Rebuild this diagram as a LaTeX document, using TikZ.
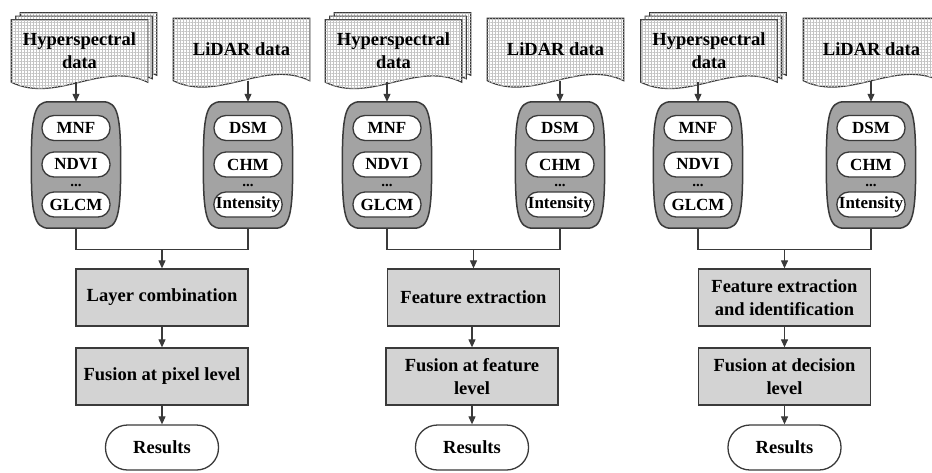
\documentclass[tikz,border=0pt]{standalone}
\usepackage{fontspec}
\setmainfont{Liberation Serif}
\usetikzlibrary{arrows.meta,calc,backgrounds,patterns.meta}
\definecolor{ink}{HTML}{3A3A3A}
\definecolor{capgray}{HTML}{A3A3A3}
\definecolor{boxgray}{HTML}{D3D3D3}
\definecolor{gridgray}{HTML}{C4C4C4}
\tikzset{
  txt/.style={font=\bfseries\fontsize{18.5}{23}\selectfont,text=black,align=center},
  small/.style={font=\bfseries\fontsize{17}{20}\selectfont,text=black},
  docframe/.style={txt,minimum width=136pt,minimum height=62pt,inner sep=0pt},
  docsheet/.style={draw=ink,line width=1.2pt,fill=white,postaction={pattern={Hatch[angle=0,distance=3pt,line width=0.35pt]},pattern color=gridgray}},
  capframe/.style={minimum width=89pt,minimum height=126pt,inner sep=0pt},
  barrel/.style={draw=ink,fill=capgray,line width=1.5pt},
  pill/.style={small,draw=ink,fill=white,line width=1.3pt,rounded corners=12pt,minimum width=68pt,minimum height=25pt,inner sep=2pt},
  dotrow/.style={font=\bfseries\fontsize{15}{15}\selectfont,inner sep=0pt},
  stage/.style={txt,draw=ink,fill=boxgray,line width=1.3pt,minimum width=172pt,minimum height=57pt,inner sep=2pt},
  result/.style={txt,draw=ink,fill=white,line width=1.3pt,rounded corners=22pt,minimum width=113pt,minimum height=45pt},
  arr/.style={-{Triangle[length=8pt,width=7pt]},draw=ink,line width=1.1pt},
  link/.style={draw=ink,line width=1.1pt}
}
% data sheet with a wavy lower edge, #2 shifts it
\newcommand\sheet[2]{%
  \draw[docsheet] ($(#1.north west)+#2$) -- ($(#1.north east)+#2$) -- ($(#1.south east)+#2$)
    .. controls ($(#1.south east)!0.33!(#1.south west)+(0,-22)+#2$) and ($(#1.south east)!0.67!(#1.south west)+(0,22)+#2$)
    .. ($(#1.south west)+#2$) -- cycle;}
% gray feature capsule around a frame node
\newcommand\barrel[1]{%
  \draw[barrel] ($(#1.north)+(-27,0)$) -- ($(#1.north)+(27,0)$)
    .. controls ($(#1.north east)+(-3,0)$) and ($(#1.east)+(0,-50)$) .. (#1.east)
    .. controls ($(#1.east)+(0,50)$) and ($(#1.south east)+(-3,0)$) .. ($(#1.south)+(27,0)$)
    -- ($(#1.south)+(-27,0)$)
    .. controls ($(#1.south west)+(3,0)$) and ($(#1.west)+(0,50)$) .. (#1.west)
    .. controls ($(#1.west)+(0,-50)$) and ($(#1.north west)+(3,0)$) .. cycle;}

\begin{document}
\begin{tikzpicture}[x=1pt,y=-1pt]
\useasboundingbox (0,0) rectangle (932,472);

% pixel level
\node[docframe] (hd1) at (79.5,51) {Hyperspectral\\data};
\node[docframe] (ld1) at (241.5,49.5) {LiDAR data};
\begin{scope}[on background layer]
  \sheet{hd1}{(9,-7)} \sheet{hd1}{(4.5,-3.5)} \sheet{hd1}{(0,0)}
  \sheet{ld1}{(0,0)}
\end{scope}
\node[capframe] (hc1) at (76,165) {}; \barrel{hc1}
\node[pill] (h1a) at (76,128) {MNF};
\node[pill] (h1b) at (76,164.5) {NDVI};
\node[dotrow] (h1d) at (76,185) {...};
\node[pill] (h1c) at (76,204.5) {GLCM};
\node[capframe] (lc1) at (248,165) {}; \barrel{lc1}
\node[pill] (l1a) at (248,128) {DSM};
\node[pill] (l1b) at (248,164.5) {CHM};
\node[dotrow] (l1d) at (248,185) {...};
\node[pill] (l1c) at (248,204.5) {Intensity};
\draw[arr] (hd1.south -| hc1.north) -- (hc1.north);
\draw[arr] (ld1.south -| lc1.north) -- (lc1.north);
\coordinate (j1) at ($(hc1.south)!0.5!(lc1.south)+(0,21)$);
\draw[link] (hc1.south) |- (j1) -| (lc1.south);
\node[stage] (s1a) at (162,297.5) {Layer combination};
\node[stage] (s1b) at (162,376.5) {Fusion at pixel level};
\node[result] (r1) at (162,447.5) {Results};
\draw[arr] (j1) -- (s1a);
\draw[arr] (s1a) -- (s1b);
\draw[arr] (s1b) -- (r1);

% feature level
\node[docframe] (hd2) at (393.5,51) {Hyperspectral\\data};
\node[docframe] (ld2) at (555.5,49.5) {LiDAR data};
\begin{scope}[on background layer]
  \sheet{hd2}{(9,-7)} \sheet{hd2}{(4.5,-3.5)} \sheet{hd2}{(0,0)}
  \sheet{ld2}{(0,0)}
\end{scope}
\node[capframe] (hc2) at (387,165) {}; \barrel{hc2}
\node[pill] (h2a) at (387,128) {MNF};
\node[pill] (h2b) at (387,164.5) {NDVI};
\node[dotrow] (h2d) at (387,185) {...};
\node[pill] (h2c) at (387,204.5) {GLCM};
\node[capframe] (lc2) at (560,165) {}; \barrel{lc2}
\node[pill] (l2a) at (560,128) {DSM};
\node[pill] (l2b) at (560,164.5) {CHM};
\node[dotrow] (l2d) at (560,185) {...};
\node[pill] (l2c) at (560,204.5) {Intensity};
\draw[arr] (hd2.south -| hc2.north) -- (hc2.north);
\draw[arr] (ld2.south -| lc2.north) -- (lc2.north);
\coordinate (j2) at ($(hc2.south)!0.5!(lc2.south)+(0,21)$);
\draw[link] (hc2.south) |- (j2) -| (lc2.south);
\node[stage] (s2a) at (473.5,297.5) {Feature extraction};
\node[stage] (s2b) at (472,376.5) {Fusion at feature\\level};
\node[result] (r2) at (472,447.5) {Results};
\draw[arr] (j2) -- (s2a);
\draw[arr] (s2a.south -| s2b.north) -- (s2b);
\draw[arr] (s2b) -- (r2);

% decision level
\node[docframe] (hd3) at (709,51) {Hyperspectral\\data};
\node[docframe] (ld3) at (871.5,49.5) {LiDAR data};
\begin{scope}[on background layer]
  \sheet{hd3}{(9,-7)} \sheet{hd3}{(4.5,-3.5)} \sheet{hd3}{(0,0)}
  \sheet{ld3}{(0,0)}
\end{scope}
\node[capframe] (hc3) at (698,165) {}; \barrel{hc3}
\node[pill] (h3a) at (698,128) {MNF};
\node[pill] (h3b) at (698,164.5) {NDVI};
\node[dotrow] (h3d) at (698,185) {...};
\node[pill] (h3c) at (698,204.5) {GLCM};
\node[capframe] (lc3) at (871,165) {}; \barrel{lc3}
\node[pill] (l3a) at (871,128) {DSM};
\node[pill] (l3b) at (871,164.5) {CHM};
\node[dotrow] (l3d) at (871,185) {...};
\node[pill] (l3c) at (871,204.5) {Intensity};
\draw[arr] (hd3.south -| hc3.north) -- (hc3.north);
\draw[arr] (ld3.south -| lc3.north) -- (lc3.north);
\coordinate (j3) at ($(hc3.south)!0.5!(lc3.south)+(0,21)$);
\draw[link] (hc3.south) |- (j3) -| (lc3.south);
\node[stage] (s3a) at (784.5,297.5) {Feature extraction\\and identification};
\node[stage] (s3b) at (784.5,376.5) {Fusion at decision\\level};
\node[result] (r3) at (784.5,447.5) {Results};
\draw[arr] (j3) -- (s3a);
\draw[arr] (s3a) -- (s3b);
\draw[arr] (s3b) -- (r3);
\end{tikzpicture}
\end{document}
